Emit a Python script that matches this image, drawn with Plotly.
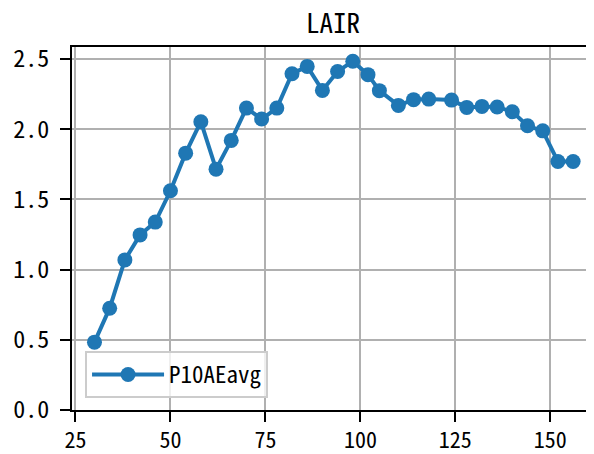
import plotly.graph_objects as go

x_vals = [30, 34, 38, 42, 46, 50, 54, 58, 62, 66, 70, 74, 78, 82, 86, 90,
          94, 98, 102, 105, 110, 114, 118, 124, 128, 132, 136, 140, 144, 148, 152, 156]
y_vals = [0.483, 0.725, 1.069, 1.247, 1.338, 1.561, 1.829, 2.053, 1.715, 1.920,
          2.150, 2.072, 2.150, 2.395, 2.447, 2.276, 2.411, 2.483, 2.388, 2.274,
          2.169, 2.210, 2.214, 2.207, 2.155, 2.162, 2.158, 2.124, 2.024, 1.988,
          1.770, 1.770]
x_ticks = [25, 50, 75, 100, 125, 150]
y_ticks = [0.0, 0.5, 1.0, 1.5, 2.0, 2.5]
y_tick_text = ["0.0", "0.5", "1.0", "1.5", "2.0", "2.5"]
series_name = "P10AEavg"
title_text = "LAIR"

FONT = "Noto Sans Mono CJK SC, Noto Sans CJK SC, DejaVu Sans Mono"
color = "#1f77b4"

fig = go.Figure()
fig.add_trace(go.Scatter(
    x=x_vals, y=y_vals, mode="lines+markers", name=series_name,
    line=dict(color=color, width=4),
    marker=dict(color=color, size=15),
))

# page body has an 8px margin, so the figure is offset by (8, 8) in the window
fig.update_layout(
    width=586, height=446,
    margin=dict(l=64, r=0, t=39, b=44),
    paper_bgcolor="white", plot_bgcolor="white",
    font=dict(family=FONT, size=24, color="black"),
    title=dict(text=title_text, x=0.5, xref="paper", y=0.966, yanchor="middle",
               xanchor="center", automargin=False,
               font=dict(family=FONT, size=27, color="black")),
    showlegend=True,
    legend=dict(x=0.025, y=0.033, xanchor="left", yanchor="bottom",
                bgcolor="rgba(255,255,255,0.8)", bordercolor="#cccccc", borderwidth=2,
                font=dict(family=FONT, size=23), itemwidth=72),
)
fig.update_xaxes(
    range=[24.08, 161.5], tickmode="array", tickvals=x_ticks,
    showgrid=True, gridcolor="#b0b0b0", gridwidth=2,
    showline=True, linecolor="black", linewidth=2, mirror=True,
    ticks="outside", ticklen=10, tickwidth=2, tickcolor="black",
    zeroline=False, ticklabelstandoff=0, automargin=False,
    tickfont=dict(family=FONT, size=22),
)
fig.update_yaxes(
    range=[0, 2.585], tickmode="array", tickvals=y_ticks, ticktext=y_tick_text,
    showgrid=True, gridcolor="#b0b0b0", gridwidth=2,
    showline=True, linecolor="black", linewidth=2,
    ticks="outside", ticklen=10, tickwidth=2, tickcolor="black",
    zeroline=False, ticklabelstandoff=6, automargin=False,
)

fig.write_html("out.html")
